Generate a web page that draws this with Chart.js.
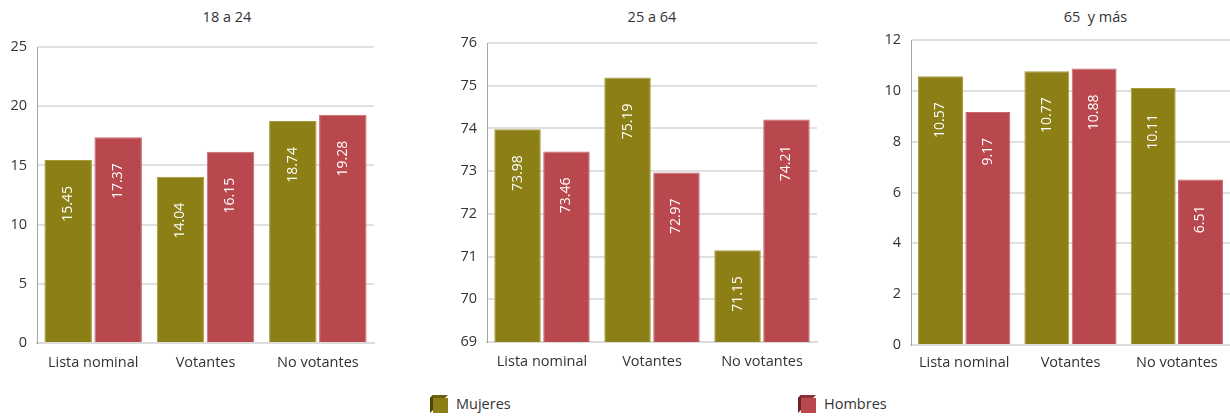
<!DOCTYPE html>
<html lang="es">
<head>
  <meta charset="UTF-8">
  <title>Lista nominal, votantes y no votantes por edad</title>
  <script src="https://cdn.jsdelivr.net/npm/chart.js"></script>
  <style>
    body { margin: 0; width: 1230px; height: 418px; background: #fff; font-family: 'Open Sans', sans-serif; position: relative; overflow: hidden; }
    .box { position: absolute; top: 0; height: 380px; }
    .ttl { position: absolute; top: 7px; font-size: 14.5px; color: #333; text-align: center; }
    .leg { position: absolute; top: 394px; font-size: 14.5px; color: #333; display: flex; align-items: center; }
    .leg svg { margin-right: 8px; }
  </style>
</head>
<body>
  <div class="ttl" style="left:37px;width:380px">18 a 24</div>
  <div class="ttl" style="left:487px;width:330px">25 a 64</div>
  <div class="ttl" style="left:911px;width:369px">65&nbsp; y más</div>

  <div class="box" style="left:0;width:380px"><canvas id="c1"></canvas></div>
  <div class="box" style="left:430px;width:400px"><canvas id="c2"></canvas></div>
  <div class="box" style="left:850px;width:380px"><canvas id="c3"></canvas></div>

  <div class="leg" style="left:430px">
    <svg width="18" height="18" viewBox="0 0 18 18">
      <polygon points="0,3 3,0 18,0 15,3" fill="#6b610c"/>
      <polygon points="0,3 3,0 3,15 0,18" fill="#4e4708"/>
      <rect x="3" y="3" width="15" height="15" fill="#8c7f15"/>
    </svg>Mujeres
  </div>
  <div class="leg" style="left:798px">
    <svg width="18" height="18" viewBox="0 0 18 18">
      <polygon points="0,3 3,0 18,0 15,3" fill="#8e2f35"/>
      <polygon points="0,3 3,0 3,15 0,18" fill="#6e2227"/>
      <rect x="3" y="3" width="15" height="15" fill="#b9484e"/>
    </svg>Hombres
  </div>

  <script>
    const categories = ['Lista nominal', 'Votantes', 'No votantes'];

    const mujeres18 = [15.45, 14.04, 18.74];
    const hombres18 = [17.37, 16.15, 19.28];
    const mujeres25 = [73.98, 75.19, 71.15];
    const hombres25 = [73.46, 72.97, 74.21];
    const mujeres65 = [10.57, 10.77, 10.11];
    const hombres65 = [9.17, 10.88, 6.51];

    const olive = '#8c7f15';
    const red = '#b9484e';

    // etiquetas verticales blancas dentro de cada barra
    const barLabels = {
      id: 'barLabels',
      afterDatasetsDraw(chart) {
        const ctx = chart.ctx;
        ctx.save();
        ctx.fillStyle = '#fff';
        ctx.font = '14px "Open Sans", sans-serif';
        ctx.textAlign = 'right';
        ctx.textBaseline = 'middle';
        chart.data.datasets.forEach((ds, i) => {
          chart.getDatasetMeta(i).data.forEach((bar, j) => {
            ctx.save();
            ctx.translate(bar.x, bar.y + 26);
            ctx.rotate(-Math.PI / 2);
            ctx.fillText(ds.data[j].toFixed(2), 0, 0);
            ctx.restore();
          });
        });
        ctx.restore();
      }
    };

    function makeChart(id, m, h, min, max, step, yWidth, xHeight, xPad, pad) {
      return new Chart(document.getElementById(id), {
        type: 'bar',
        data: {
          labels: categories,
          datasets: [
            { label: 'Mujeres', data: m, backgroundColor: olive, borderColor: '#a59a3c', borderWidth: 1 },
            { label: 'Hombres', data: h, backgroundColor: red, borderColor: '#c8676c', borderWidth: 1 }
          ]
        },
        options: {
          responsive: false,
          animation: false,
          maintainAspectRatio: false,
          layout: { padding: pad },
          datasets: { bar: { categoryPercentage: 0.89, barPercentage: 0.95 } },
          plugins: { legend: { display: false }, tooltip: { enabled: false } },
          scales: {
            x: {
              grid: { display: false, drawTicks: false },
              border: { color: '#dcdcdc', width: 2 },
              ticks: { color: '#333', padding: xPad, font: { family: 'Open Sans', size: 14.5 } },
              afterFit: s => { s.height = xHeight; }
            },
            y: {
              min: min, max: max,
              ticks: { stepSize: step, color: '#333', padding: 10, font: { family: 'Open Sans', size: 14.5 } },
              grid: { color: '#e0e0e0', lineWidth: 2, drawTicks: false },
              border: { color: '#a6a6a6', width: 1 },
              afterFit: s => { s.width = yWidth; }
            }
          }
        },
        plugins: [barLabels]
      });
    }

    function sizeCanvas(id, w, hgt) {
      const c = document.getElementById(id);
      c.width = w; c.height = hgt;
      c.style.width = w + 'px'; c.style.height = hgt + 'px';
    }
    sizeCanvas('c1', 380, 380);
    sizeCanvas('c2', 400, 380);
    sizeCanvas('c3', 380, 380);

    makeChart('c1', mujeres18, hombres18, 0, 25, 5, 37, 37, 11, { top: 47, right: 6, left: 0, bottom: 0 });
    makeChart('c2', mujeres25, hombres25, 69, 76, 1, 57, 37, 11, { top: 43, right: 13, left: 0, bottom: 1 });
    makeChart('c3', mujeres65, hombres65, 0, 12, 2, 61, 35, 9, { top: 40, right: 0, left: 0, bottom: 0 });
  </script>
</body>
</html>
